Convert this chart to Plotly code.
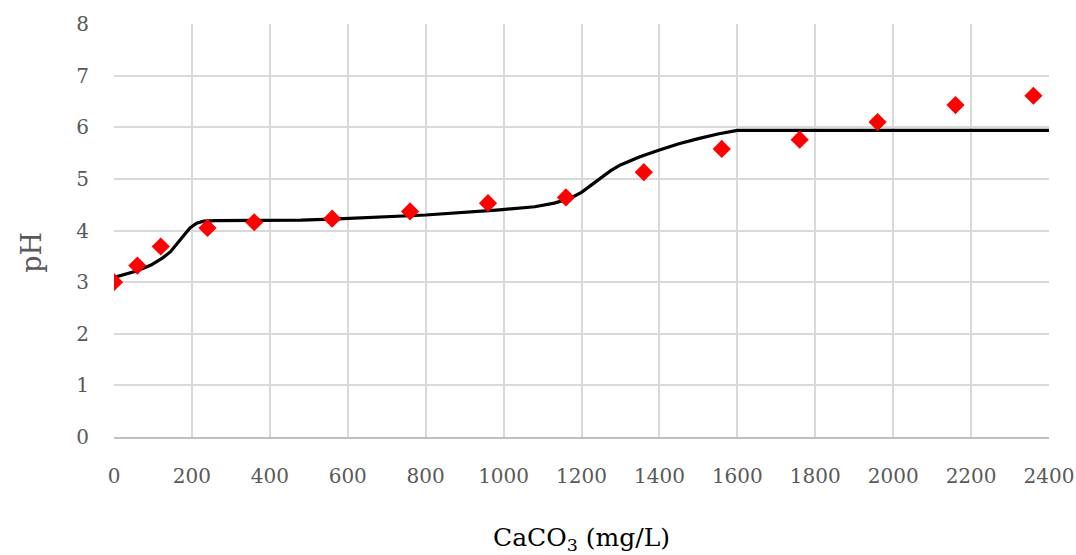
import plotly.graph_objects as go

# Measured data (red diamonds)
meas_x = [0, 60, 120, 240, 360, 560, 760, 960, 1160, 1360, 1560, 1760, 1960, 2160, 2360]
meas_y = [3.0, 3.32, 3.69, 4.05, 4.16, 4.23, 4.37, 4.53, 4.64, 5.13, 5.58, 5.76, 6.10, 6.43, 6.61]

# Model curve (black line)
model_x = [0, 30, 60, 95, 125, 145, 160, 178, 195, 212, 230, 260, 300, 480, 560, 800, 990, 1080, 1130, 1170,
           1200, 1225, 1250, 1275, 1300, 1350, 1400, 1450, 1500, 1550, 1600, 2400]
model_y = [3.09, 3.15, 3.22, 3.33, 3.47, 3.59, 3.73, 3.90, 4.05, 4.14, 4.18, 4.19, 4.19, 4.20, 4.22, 4.30, 4.40, 4.46, 4.53, 4.62,
           4.74, 4.88, 5.03, 5.16, 5.27, 5.43, 5.56, 5.68, 5.78, 5.87, 5.94, 5.94]

x_ticks = list(range(0, 2401, 200))
y_ticks = list(range(0, 9))

font_family = "DejaVu Serif"

fig = go.Figure()
fig.add_trace(go.Scatter(
    x=model_x, y=model_y, mode="lines",
    line=dict(color="black", width=3.2, shape="linear"),
    showlegend=False, hoverinfo="skip",
))
fig.add_trace(go.Scatter(
    x=meas_x, y=meas_y, mode="markers",
    marker=dict(symbol="diamond", color="#ff0000", size=14, line=dict(width=0)),
    showlegend=False,
))

fig.update_layout(
    width=1076, height=555,
    margin=dict(l=114, r=27, t=24, b=118),
    paper_bgcolor="white", plot_bgcolor="white",
    font=dict(family=font_family, color="#595959", size=20),
    xaxis=dict(
        range=[0, 2400], tickvals=x_ticks, showgrid=True, gridcolor="#d9d9d9", gridwidth=2,
        zeroline=False, showline=True, linecolor="#bfbfbf", linewidth=2,
        ticks="", ticklabelstandoff=20, automargin=False,
        tickfont=dict(family=font_family, size=20, color="#595959"),
        title=dict(text="CaCO<sub>3</sub> (mg/L)", font=dict(family=font_family, size=25, color="black"), standoff=52),
    ),
    yaxis=dict(
        range=[0, 8], tickvals=y_ticks, showgrid=True, gridcolor="#d9d9d9", gridwidth=2,
        zeroline=False, showline=False,
        ticks="", ticklabelstandoff=24, automargin=False,
        tickfont=dict(family=font_family, size=20, color="#595959"),
    ),
    annotations=[dict(
        text="pH", textangle=-90, showarrow=False,
        xref="paper", yref="paper", x=-0.088, y=0.448,
        xanchor="center", yanchor="middle",
        font=dict(family=font_family, size=27, color="#595959"),
    )],
)

fig.write_html("out.html")
